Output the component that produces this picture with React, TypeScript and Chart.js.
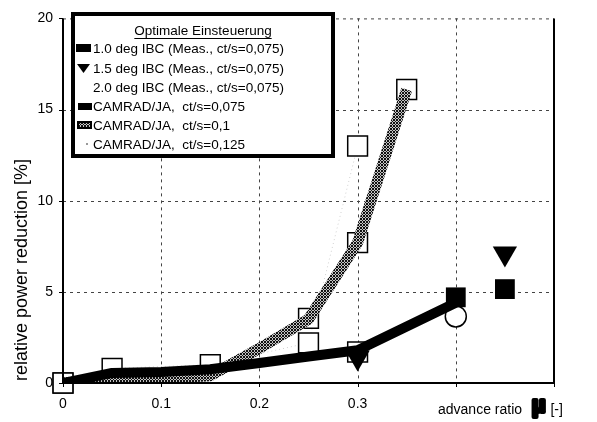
import React, { useEffect, useRef } from 'react';
import { Chart, registerables } from 'chart.js';
Chart.register(...registerables);

// ---- data ----
const X_TICKS = [0, 0.1, 0.2, 0.3, 0.4, 0.5];
const Y_TICKS = [0, 5, 10, 15, 20];
const X_TICK_LABELS = ['0', '0.1', '0.2', '0.3', '', ''];

const LEGEND_TITLE = 'Optimale Einsteuerung';
const Y_TITLE = 'relative power reduction [%]';
const X_TITLE_A = 'advance ratio ';
const X_TITLE_MU = 'μ';
const X_TITLE_B = '[-]';

const meas10X = [0.4, 0.45];
const meas10Y = [4.7, 5.15];
const meas15X = [0.3, 0.45];
const meas15Y = [1.4, 7.1];
const meas20X = [0.4];
const meas20Y = [3.65];

const camrad075X = [0, 0.05, 0.1, 0.15, 0.2, 0.25, 0.3, 0.4];
const camrad075Y = [0, 0.55, 0.6, 0.75, 1.1, 1.45, 1.8, 4.4];
const camrad010X = [0, 0.05, 0.1, 0.15, 0.2, 0.25, 0.3, 0.35];
const camrad010Y = [0, 0.3, 0.25, 0.4, 1.9, 3.5, 7.7, 16.1];
const camrad0125X = [0, 0.05, 0.15, 0.25, 0.3];
const camrad0125Y = [0, 0.8, 1.0, 2.2, 13.0];
const calcPointX = [0, 0.25, 0.3, 0.3, 0.35];
const calcPointY = [0, 3.55, 1.7, 7.7, 16.1];

const LABELS = [
  '1.0 deg IBC (Meas., ct/s=0,075)',
  '1.5 deg IBC (Meas., ct/s=0,075)',
  '2.0 deg IBC (Meas., ct/s=0,075)',
  'CAMRAD/JA,  ct/s=0,075',
  'CAMRAD/JA,  ct/s=0,1',
  'CAMRAD/JA,  ct/s=0,125',
];

const FONT = '"Liberation Sans", Arial, sans-serif';

const toPts = (xs: number[], ys: number[]) => xs.map((x, i) => ({ x, y: ys[i] }));

function makePattern(): CanvasPattern | string {
  const pc = document.createElement('canvas');
  pc.width = 3;
  pc.height = 3;
  const p = pc.getContext('2d');
  if (!p) return '#777';
  p.fillStyle = '#c4c4c4';
  p.fillRect(0, 0, 3, 3);
  p.fillStyle = '#111';
  p.fillRect(0, 0, 1, 1);
  p.fillRect(1, 2, 1, 1);
  p.fillRect(2, 1, 1, 1);
  p.fillRect(1, 0, 1, 1);
  p.fillRect(0, 2, 1, 1);
  const pat = p.createPattern(pc, 'repeat');
  return pat || '#777';
}

export default function App() {
  const ref = useRef<HTMLCanvasElement | null>(null);

  useEffect(() => {
    document.body.style.margin = '0';
    const canvas = ref.current;
    if (!canvas) return;
    const pattern = makePattern();

    const framePlugin = {
      id: 'frame',
      beforeDatasetsDraw(chart: any) {
        const { ctx, chartArea: a, scales } = chart;
        const x = scales.x;
        const y = scales.y;
        ctx.save();
        ctx.strokeStyle = '#444';
        ctx.lineWidth = 1;
        ctx.setLineDash([3, 4]);
        for (const v of X_TICKS) {
          if (v <= 0 || v >= 0.5) continue;
          const px = Math.round(x.getPixelForValue(v)) + 0.5;
          ctx.beginPath();
          ctx.moveTo(px, a.top);
          ctx.lineTo(px, a.bottom);
          ctx.stroke();
        }
        for (const v of Y_TICKS) {
          if (v <= 0 || v >= 20) continue;
          const py = Math.round(y.getPixelForValue(v)) + 0.5;
          ctx.beginPath();
          ctx.moveTo(a.left, py);
          ctx.lineTo(a.right, py);
          ctx.stroke();
        }
        // dotted top frame
        ctx.beginPath();
        ctx.moveTo(a.left, a.top + 0.5);
        ctx.lineTo(a.right, a.top + 0.5);
        ctx.stroke();
        ctx.restore();
      },
      afterDatasetsDraw(chart: any) {
        const { ctx, chartArea: a, scales } = chart;
        const x = scales.x;
        const y = scales.y;
        ctx.save();
        ctx.setLineDash([]);
        ctx.strokeStyle = '#000';
        // axis frame
        ctx.lineWidth = 2;
        ctx.beginPath();
        ctx.moveTo(a.left, a.top);
        ctx.lineTo(a.left, a.bottom);
        ctx.lineTo(a.right, a.bottom);
        ctx.lineTo(a.right, a.top);
        ctx.stroke();
        // major ticks
        ctx.lineWidth = 1;
        for (const v of Y_TICKS) {
          const py = Math.round(y.getPixelForValue(v)) + 0.5;
          ctx.beginPath();
          ctx.moveTo(a.left - 4, py);
          ctx.lineTo(a.left, py);
          ctx.stroke();
        }
        for (const v of X_TICKS) {
          const px = Math.round(x.getPixelForValue(v)) + 0.5;
          ctx.beginPath();
          ctx.moveTo(px, a.bottom);
          ctx.lineTo(px, a.bottom + 4);
          ctx.stroke();
        }

        // legend box
        const bx = 73, by = 14, bw = 260, bh = 142;
        ctx.fillStyle = '#fff';
        ctx.fillRect(bx, by, bw, bh);
        ctx.lineWidth = 4;
        ctx.strokeStyle = '#000';
        ctx.strokeRect(bx, by, bw, bh);

        ctx.fillStyle = '#000';
        ctx.font = `13.5px ${FONT}`;
        ctx.textBaseline = 'middle';
        ctx.textAlign = 'center';
        const tx = bx + bw / 2;
        ctx.fillText(LEGEND_TITLE, tx, 31);
        const tw = ctx.measureText(LEGEND_TITLE).width;
        ctx.lineWidth = 1;
        ctx.beginPath();
        ctx.moveTo(tx - tw / 2, 38.5);
        ctx.lineTo(tx + tw / 2, 38.5);
        ctx.stroke();

        ctx.textAlign = 'left';
        const rows = [48, 68, 87, 106, 125, 144];
        LABELS.forEach((lab, i) => {
          const ry = rows[i];
          ctx.fillStyle = '#000';
          ctx.fillText(lab, 93, ry + 1);
          if (i === 0) {
            ctx.fillRect(76, ry - 4, 15, 8);
          } else if (i === 1) {
            ctx.beginPath();
            ctx.moveTo(77, ry - 4);
            ctx.lineTo(90, ry - 4);
            ctx.lineTo(83.5, ry + 5);
            ctx.closePath();
            ctx.fill();
          } else if (i === 3) {
            ctx.fillRect(78, ry - 3, 14, 7);
          } else if (i === 4) {
            ctx.fillStyle = '#000';
            ctx.fillRect(77, ry - 4, 15, 8);
            ctx.fillStyle = pattern as any;
            ctx.fillRect(79, ry - 2, 11, 4);
          } else if (i === 5) {
            ctx.fillStyle = '#999';
            ctx.fillRect(86, ry - 1, 2, 2);
          }
        });

        // axis titles
        ctx.fillStyle = '#000';
        ctx.textAlign = 'left';
        ctx.textBaseline = 'middle';
        ctx.font = `14px ${FONT}`;
        const xa = 438;
        ctx.fillText(X_TITLE_A, xa, 410);
        const wa = ctx.measureText(X_TITLE_A).width;
        ctx.font = `bold 22px ${FONT}`;
        ctx.lineWidth = 4;
        ctx.lineJoin = 'round';
        ctx.strokeStyle = '#000';
        const mx = xa + wa + 6;
        ctx.strokeText(X_TITLE_MU, mx, 406);
        ctx.fillText(X_TITLE_MU, mx, 406);
        const wm = ctx.measureText(X_TITLE_MU).width;
        ctx.font = `14px ${FONT}`;
        ctx.fillText(X_TITLE_B, mx + wm + 5, 410);

        ctx.save();
        ctx.translate(22, 270);
        ctx.rotate(-Math.PI / 2);
        ctx.textAlign = 'center';
        ctx.font = `18px ${FONT}`;
        ctx.fillText(Y_TITLE, 0, 0);
        ctx.restore();

        ctx.restore();
      },
    };

    const chart = new Chart(canvas, {
      type: 'scatter',
      data: {
        datasets: [
          {
            label: LABELS[0],
            data: toPts(meas10X, meas10Y),
            showLine: false,
            pointStyle: 'rect',
            pointRadius: 14,
            pointBackgroundColor: '#000',
            pointBorderColor: '#000',
            pointBorderWidth: 0,
            order: 0,
            clip: false,
          },
          {
            label: LABELS[1],
            data: toPts(meas15X, meas15Y),
            showLine: false,
            pointStyle: 'triangle',
            pointRotation: 180,
            pointRadius: 14,
            pointBackgroundColor: '#000',
            pointBorderColor: '#000',
            pointBorderWidth: 0,
            order: 0,
            clip: false,
          },
          {
            label: LABELS[2],
            data: toPts(meas20X, meas20Y),
            showLine: false,
            pointStyle: 'circle',
            pointRadius: 10.5,
            pointBackgroundColor: '#fff',
            pointBorderColor: '#000',
            pointBorderWidth: 1.5,
            order: 3,
            clip: false,
          },
          {
            label: LABELS[3],
            data: toPts(camrad075X, camrad075Y),
            showLine: true,
            borderColor: '#000',
            borderWidth: 10,
            borderJoinStyle: 'round',
            pointRadius: 0,
            fill: false,
            tension: 0,
            order: 1,
          },
          {
            label: LABELS[4],
            data: toPts(camrad010X, camrad010Y),
            showLine: true,
            borderColor: pattern as any,
            borderWidth: 11,
            borderJoinStyle: 'round',
            pointRadius: 0,
            fill: false,
            tension: 0,
            order: 2,
          },
          {
            label: LABELS[5],
            data: toPts(camrad0125X, camrad0125Y),
            showLine: true,
            borderColor: '#d0d0d0',
            borderWidth: 1,
            borderDash: [1, 3],
            pointStyle: 'rect',
            pointRadius: 14,
            pointBackgroundColor: '#fff',
            pointBorderColor: '#000',
            pointBorderWidth: 1.5,
            fill: false,
            tension: 0,
            order: 5,
            clip: false,
          },
          {
            label: 'CAMRAD/JA points',
            data: toPts(calcPointX, calcPointY),
            showLine: false,
            pointStyle: 'rect',
            pointRadius: 14,
            pointBackgroundColor: '#fff',
            pointBorderColor: '#000',
            pointBorderWidth: 1.5,
            order: 4,
            clip: false,
          },
        ],
      },
      options: {
        animation: false,
        responsive: false,
        devicePixelRatio: 1,
        events: [],
        layout: { padding: { left: 0, right: 43, top: 10, bottom: 0 } },
        plugins: {
          legend: { display: false },
          tooltip: { enabled: false },
          title: { display: false },
        },
        scales: {
          x: {
            type: 'linear',
            min: 0,
            max: 0.5,
            afterFit: (s: any) => { s.height = 39; },
            afterBuildTicks: (s: any) => { s.ticks = X_TICKS.map((v) => ({ value: v })); },
            grid: { display: false, drawTicks: false },
            border: { display: false },
            ticks: {
              autoSkip: false,
              maxRotation: 0,
              padding: 13,
              color: '#000',
              font: { family: FONT, size: 14 },
              callback: (_v: any, i: number) => X_TICK_LABELS[i],
            },
          },
          y: {
            type: 'linear',
            min: 0,
            max: 20,
            afterFit: (s: any) => { s.width = 63; },
            afterBuildTicks: (s: any) => { s.ticks = Y_TICKS.map((v) => ({ value: v })); },
            grid: { display: false, drawTicks: false },
            border: { display: false },
            ticks: {
              padding: 10,
              color: '#000',
              font: { family: FONT, size: 14 },
              callback: (v: any) => String(v),
            },
          },
        },
      },
      plugins: [framePlugin],
    } as any);

    return () => chart.destroy();
  }, []);

  return (
    <div style={{ width: 597, height: 422, background: '#fff' }}>
      <canvas ref={ref} width={597} height={422} style={{ display: 'block' }} />
    </div>
  );
}
